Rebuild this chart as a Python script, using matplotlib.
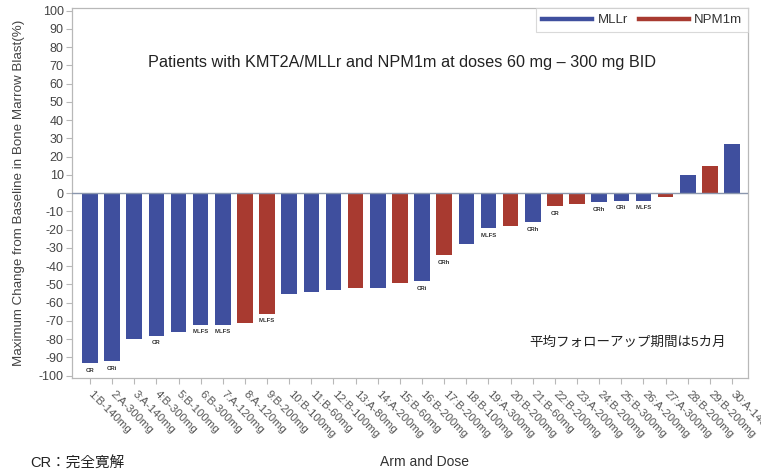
import matplotlib
matplotlib.use("Agg")
import matplotlib.pyplot as plt
from matplotlib.lines import Line2D
from matplotlib.transforms import ScaledTranslation

# patient order, arm/dose, best change in blast %, subgroup and response
arm_dose = ["1:B-140mg", "2:A-300mg", "3:A-140mg", "4:B-300mg", "5:B-100mg",
            "6:B-300mg", "7:A-120mg", "8:A-120mg", "9:B-200mg", "10:B-100mg",
            "11:B-60mg", "12:B-100mg", "13:A-80mg", "14:A-200mg", "15:B-60mg",
            "16:B-200mg", "17:B-200mg", "18:B-100mg", "19:A-300mg", "20:B-200mg",
            "21:B-60mg", "22:B-200mg", "23:A-200mg", "24:B-200mg", "25:B-300mg",
            "26:A-200mg", "27:A-300mg", "28:B-200mg", "29:B-200mg", "30:A-140mg"]
change = [-93, -92, -80, -78, -76, -72, -72, -71, -66, -55,
          -54, -53, -52, -52, -49, -48, -34, -28, -19, -18,
          -16, -7, -6, -5, -4, -4, -2, 10, 15, 27]
group = ["MLLr"] * 7 + ["NPM1m"] * 2 + ["MLLr"] * 3 + ["NPM1m", "MLLr", "NPM1m",
         "MLLr", "NPM1m", "MLLr", "MLLr", "NPM1m", "MLLr", "NPM1m", "NPM1m",
         "MLLr", "MLLr", "MLLr", "NPM1m", "MLLr", "NPM1m", "MLLr"]
response = ["CR", "CRi", "", "CR", "", "MLFS", "MLFS", "", "MLFS", "",
            "", "", "", "", "", "CRi", "CRh", "", "MLFS", "",
            "CRh", "CR", "", "CRh", "CRi", "MLFS", "", "", "", ""]

COLORS = {"MLLr": "#3f4f9e", "NPM1m": "#a83a30"}
GRID_GREY = "#b8b8b8"
TEXT_GREY = "#555555"

plt.rcParams["font.family"] = ["Liberation Sans", "Noto Sans CJK JP", "DejaVu Sans"]
plt.rcParams["axes.unicode_minus"] = False

fig = plt.figure(figsize=(7.61, 4.72), dpi=100)
W, H = 761, 472
ax = fig.add_axes([72 / W, 1 - 377.5 / H, (748 - 72) / W, (377.5 - 8) / H])

xs = list(range(1, len(change) + 1))
ax.bar(xs, change, width=0.7, color=[COLORS[g] for g in group], zorder=2)
ax.axhline(0, color="#8a96ad", lw=1.0, zorder=3)

# response category printed just past the end of each bar
for x, v, r in zip(xs, change, response):
    if r:
        ax.text(x, v - 2.6, r, ha="center", va="top", fontsize=4.3,
                fontweight="bold", color="#333333")

ax.set_xlim(0.19, 30.72)
ax.set_ylim(-101, 101.5)
ax.set_yticks(range(-100, 101, 10))
ax.set_xticks(xs)
ax.set_xticklabels(arm_dose, rotation=-45, ha="left", va="center",
                   rotation_mode="anchor", fontsize=8.2, color=TEXT_GREY)
shift = ScaledTranslation(-5 / 100, 0, fig.dpi_scale_trans)
for lbl in ax.get_xticklabels():
    lbl.set_transform(lbl.get_transform() + shift)
ax.tick_params(axis="x", length=4, color=GRID_GREY, pad=7)
ax.tick_params(axis="y", length=4, color=GRID_GREY, labelsize=9,
               labelcolor="#444444", pad=2)
for sp in ax.spines.values():
    sp.set_color(GRID_GREY)
    sp.set_linewidth(0.9)

ax.set_ylabel("Maximum Change from Baseline in Bone Marrow Blast(%)",
              fontsize=9.6, color="#444444", labelpad=10)
fig.text(425 / W, 1 - 462 / H, "Arm and Dose", ha="center", va="center",
         fontsize=10, color="#333333")

ax.text(402 / W, 1 - 62 / H,
        "Patients with KMT2A/MLLr and NPM1m at doses 60 mg \u2013 300 mg BID",
        transform=fig.transFigure, ha="center", va="center", fontsize=11.7,
        color="#222222")
ax.text(628 / W, 1 - 343 / H, "平均フォローアップ期間は5カ月",
        transform=fig.transFigure, ha="center", va="center", fontsize=9.7,
        color="#222222")
fig.text(30 / W, 1 - 457 / H, "CR：完全寛解", ha="left", va="top",
         fontsize=10.5, color="#222222")

handles = [Line2D([], [], color=COLORS[k], lw=3.2) for k in ["MLLr", "NPM1m"]]
leg = ax.legend(handles, ["MLLr", "NPM1m"], loc="upper right", ncol=2,
                fontsize=9.5, handlelength=3.8, handletextpad=0.4,
                columnspacing=0.8, borderpad=0.45, borderaxespad=0.0,
                fancybox=False, frameon=True)
leg.get_frame().set_edgecolor("#d0d0d0")
leg.get_frame().set_linewidth(0.8)
for t in leg.get_texts():
    t.set_color("#333333")

fig.savefig("out.png", dpi=100)
